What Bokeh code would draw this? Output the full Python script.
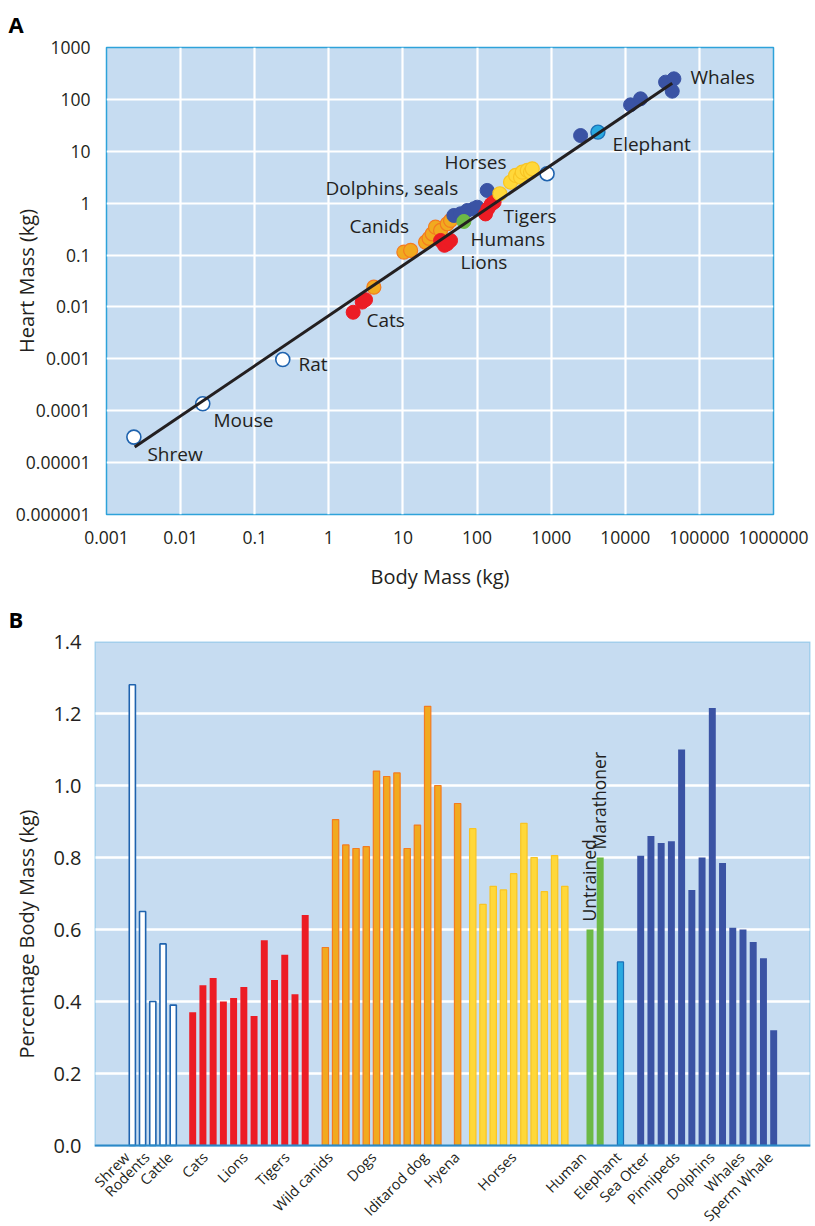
import numpy as np
from math import pi
from bokeh.plotting import figure
from bokeh.models import (FixedTicker, CustomJSTickFormatter, PrintfTickFormatter,
                          LabelSet, ColumnDataSource, Range1d, BoxAnnotation, Span)
from bokeh.core.properties import value
from bokeh.embed import file_html
from bokeh.resources import INLINE

FONT = "Open Sans"
INK = "#231f20"
BG = "#c6dcf1"
FRAME = "#2ea2da"
C_WHITE_LINE = "#1f63ae"
C_RED = "#ec1c24"
C_ORANGE = "#f1aa1f"
C_ORANGE_LINE = "#f47b20"
C_YELLOW = "#ffd83a"
C_YELLOW_LINE = "#f9c423"
C_GREEN = "#6cb946"
C_ELE = "#29a9e0"
C_ELE_LINE = "#1c72b8"
C_BLUE = "#3a53a4"
C_BASE = "#2a7fc0"

# ---------------- Panel A data: body mass (kg) vs heart mass (kg) ----------------
small_mass = [0.00234, 0.0199, 0.239, 880.0]
small_heart = [3.1e-5, 1.36e-4, 9.7e-4, 3.7]
canid_mass = [4.05, 10.3, 12.7, 20.2, 22.5, 24.8, 27.5, 32.2, 39.6, 43.9]
canid_heart = [0.024, 0.114, 0.123, 0.177, 0.21, 0.257, 0.345, 0.298, 0.401, 0.464]
cat_mass = [2.13, 2.82, 3.13]
cat_heart = [0.0079, 0.0124, 0.0138]
lion_mass = [32.2, 36.3, 39.6, 43.9]
lion_heart = [0.191, 0.154, 0.165, 0.191]
marine_mass = [48.6, 59.9, 73.8, 90.6, 100.7, 137.0]
marine_heart = [0.579, 0.624, 0.723, 0.78, 0.837, 1.76]
human_mass = [66.4]
human_heart = [0.444]
tiger_mass = [130.0, 140.0, 155.0, 170.0]
tiger_heart = [0.62, 0.78, 0.95, 1.05]
horse_mass = [203.0, 283.0, 331.0, 386.0, 407.0, 476.0, 527.0, 556.0]
horse_heart = [1.52, 2.54, 3.42, 3.17, 3.96, 4.27, 3.96, 4.6]
whale_mass = [2495.0, 11780.0, 16070.0, 35000.0, 45300.0, 43000.0]
whale_heart = [20.1, 78.5, 102.6, 215.0, 249.0, 144.0]
elephant_mass = [4276.0]
elephant_heart = [23.4]

fit_coef = 0.0068
fit_exp = 0.967
fit_mass = [0.0024, 43000.0]

a_ticks_x = [1e-3, 1e-2, 1e-1, 1, 10, 100, 1e3, 1e4, 1e5, 1e6]
a_ticks_y = [1e-6, 1e-5, 1e-4, 1e-3, 1e-2, 1e-1, 1, 10, 100, 1000]

a_label_text = ["Whales", "Elephant", "Horses", "Dolphins, seals", "Tigers", "Canids",
                "Humans", "Lions", "Cats", "Rat", "Mouse", "Shrew"]
a_label_x = [76000, 6740, 36.4, 0.90, 228, 1.90, 81.7, 59.8, 3.23, 0.39, 0.0278, 0.00357]
a_label_y = [276, 14.1, 6.08, 1.92, 0.554, 0.356, 0.2, 0.072, 0.0055, 7.8e-4, 6.5e-5, 1.44e-5]

# ---------------- Panel B data: heart mass as % of body mass ----------------
b_small = [1.28, 0.65, 0.40, 0.56, 0.39]
b_felids = [0.37, 0.445, 0.465, 0.40, 0.41, 0.44, 0.36, 0.57, 0.46, 0.53, 0.42, 0.64]
b_canids = [0.55, 0.905, 0.835, 0.825, 0.83, 1.04, 1.025, 1.035, 0.825, 0.89, 1.22, 1.0]
b_hyena = [0.95]
b_horses = [0.88, 0.67, 0.72, 0.71, 0.755, 0.895, 0.80, 0.705, 0.805, 0.72]
b_human = [0.60, 0.80]
b_human_names = ["Untrained", "Marathoner"]
b_elephant = [0.51]
b_marine = [0.805, 0.86, 0.84, 0.845, 1.10, 0.71, 0.80, 1.215, 0.785, 0.605, 0.60, 0.565, 0.52, 0.32]
# slot index of the first bar of each group
b_group_start = {"small": 1, "felids": 6.9, "canids": 19.87, "hyena": 32.8, "horses": 34.28,
                 "human": 45.74, "elephant": 48.72, "marine": 50.7}

b_tick_names = ["Shrew", "Rodents", "Cattle", "Cats", "Lions", "Tigers", "Wild canids", "Dogs",
                "Iditarod dog", "Hyena", "Horses", "Human", "Elephant", "Sea Otter", "Pinnipeds",
                "Dolphins", "Whales", "Sperm Whale"]
b_tick_pos = [0.45, 2.41, 4.69, 8.11, 12.02, 16.10, 20.33, 24.57, 29.62, 32.72, 38.26, 45.10,
              48.52, 51.29, 54.22, 57.64, 60.58, 63.34]
b_ticks_y = [0.0, 0.2, 0.4, 0.6, 0.8, 1.0, 1.2, 1.4]
b_label_row = -0.025   # category names sit just under the zero line


def slots(key, vals):
    return [b_group_start[key] + i for i in range(len(vals))]


# ================= Panel A =================
pa = figure(width=815, height=595, x_axis_type="log", y_axis_type="log",
            x_range=Range1d(1e-3, 1e6), y_range=Range1d(1e-6, 1e3),
            output_backend="svg", toolbar_location=None, title="A",
            min_border_left=106, min_border_right=42, min_border_top=47, min_border_bottom=81,
            background_fill_color=BG, border_fill_color="white")
pa.outline_line_color = FRAME
pa.outline_line_width = 1.5
pa.title.align = "left"
pa.title.offset = -98
pa.title.vertical_align = "top"
pa.title.standoff = 14
pa.title.text_font = FONT
pa.title.text_font_style = "bold"
pa.title.text_font_size = "22px"
pa.title.text_color = "black"

fmt = CustomJSTickFormatter(code="""
    if (tick >= 1) { return tick.toFixed(0); }
    return tick.toFixed(Math.round(-Math.log10(tick)));
""")
tx = FixedTicker(ticks=a_ticks_x, minor_ticks=[])
ty = FixedTicker(ticks=a_ticks_y, minor_ticks=[])
pa.xaxis.ticker = tx
pa.yaxis.ticker = ty
pa.xgrid.ticker = tx
pa.ygrid.ticker = ty
for ax in (pa.xaxis[0], pa.yaxis[0]):
    ax.formatter = fmt
    ax.axis_line_color = None
    ax.major_tick_line_color = None
    ax.minor_tick_line_color = None
    ax.major_label_text_font = FONT
    ax.major_label_text_font_size = "17.5px"
    ax.major_label_text_color = INK
    ax.axis_label_text_font = FONT
    ax.axis_label_text_font_size = "20px"
    ax.axis_label_text_font_style = "normal"
    ax.axis_label_text_color = INK
pa.xaxis.major_label_standoff = 10
pa.yaxis.major_label_standoff = 10
pa.xaxis.axis_label = "Body Mass (kg)"
pa.yaxis.axis_label = "Heart Mass (kg)"
pa.xaxis.axis_label_standoff = 16
pa.yaxis.axis_label_standoff = -27
for g in (pa.xgrid[0], pa.ygrid[0]):
    g.grid_line_color = "white"
    g.grid_line_width = 2.2

series = [
    (small_mass, small_heart, "white", C_WHITE_LINE, 1.6),
    (canid_mass, canid_heart, C_ORANGE, C_ORANGE_LINE, 1.2),
    (cat_mass, cat_heart, C_RED, C_RED, 1),
    (lion_mass, lion_heart, C_RED, C_RED, 1),
    (marine_mass, marine_heart, C_BLUE, C_BLUE, 1),
    (human_mass, human_heart, C_GREEN, C_GREEN, 1),
    (tiger_mass, tiger_heart, C_RED, C_RED, 1),
    (horse_mass, horse_heart, C_YELLOW, C_YELLOW_LINE, 1.2),
    (whale_mass, whale_heart, C_BLUE, C_BLUE, 1),
    (elephant_mass, elephant_heart, C_ELE, C_ELE_LINE, 1.4),
]
for xs, ys, fc, lc, lw in series:
    pa.scatter(xs, ys, size=14, fill_color=fc, line_color=lc, line_width=lw)

fit_x = np.array(fit_mass)
fit_y = fit_coef * fit_x ** fit_exp
pa.line(fit_x, fit_y, line_color=INK, line_width=3)

src_a = ColumnDataSource(dict(x=a_label_x, y=a_label_y, text=a_label_text))
pa.add_layout(LabelSet(x="x", y="y", text="text", source=src_a,
                       text_font=value(FONT), text_font_size=value("19px"),
                       text_color=INK, text_align="left", text_baseline="middle"))

# ================= Panel B =================
pb = figure(width=815, height=631, x_range=Range1d(-2.7, 67.3), y_range=Range1d(-0.225, 1.4),
            output_backend="svg", toolbar_location=None, title="B", x_axis_location=None,
            min_border_left=94, min_border_right=5, min_border_top=46, min_border_bottom=0,
            background_fill_color="white", border_fill_color="white")
pb.outline_line_color = None
pb.title.align = "left"
pb.title.offset = -86
pb.title.vertical_align = "top"
pb.title.standoff = 12
pb.title.text_font = FONT
pb.title.text_font_style = "bold"
pb.title.text_font_size = "22px"
pb.title.text_color = "black"

# plot area (0 .. 1.4) in light blue, white below it for the category names
pb.add_layout(BoxAnnotation(bottom=0, top=1.4, fill_color=BG, fill_alpha=1,
                            line_color=None, level="image"))

pb.xgrid.visible = False
pb.ygrid.ticker = FixedTicker(ticks=b_ticks_y)
pb.ygrid.grid_line_color = "white"
pb.ygrid.grid_line_width = 2.5

pb.vbar(x=slots("small", b_small), top=b_small, width=0.6, bottom=0,
        fill_color="white", line_color=C_WHITE_LINE, line_width=1.6)
pb.vbar(x=slots("felids", b_felids), top=b_felids, width=0.68, bottom=0,
        fill_color=C_RED, line_color=None)
pb.vbar(x=slots("canids", b_canids), top=b_canids, width=0.62, bottom=0,
        fill_color=C_ORANGE, line_color=C_ORANGE_LINE, line_width=1.2)
pb.vbar(x=slots("hyena", b_hyena), top=b_hyena, width=0.62, bottom=0,
        fill_color=C_ORANGE, line_color=C_ORANGE_LINE, line_width=1.2)
pb.vbar(x=slots("horses", b_horses), top=b_horses, width=0.62, bottom=0,
        fill_color=C_YELLOW, line_color=C_YELLOW_LINE, line_width=1.2)
hx = slots("human", b_human)
pb.vbar(x=hx, top=b_human, width=0.68, bottom=0, fill_color=C_GREEN, line_color=None)
pb.vbar(x=slots("elephant", b_elephant), top=b_elephant, width=0.6, bottom=0,
        fill_color=C_ELE, line_color=C_ELE_LINE, line_width=1.2)
pb.vbar(x=slots("marine", b_marine), top=b_marine, width=0.68, bottom=0,
        fill_color=C_BLUE, line_color=None)

# frame border around the plotting area and the darker zero line
pb.add_layout(BoxAnnotation(bottom=0, top=1.4, fill_alpha=0, line_color=FRAME,
                            line_width=2.5, level="overlay"))
pb.add_layout(Span(location=0, dimension="width", line_color=C_BASE, line_width=2))

src_h = ColumnDataSource(dict(x=hx, y=b_human, text=b_human_names))
pb.add_layout(LabelSet(x="x", y="y", text="text", source=src_h, angle=pi / 2,
                       y_offset=8, x_offset=-1,
                       text_font=value(FONT), text_font_size=value("17.5px"),
                       text_color=INK, text_align="left", text_baseline="middle"))

# category names under the bars
pb.text(x=b_tick_pos, y=[b_label_row] * len(b_tick_pos), text=b_tick_names, angle=pi / 4,
        text_align="right", text_baseline="middle", text_font=value(FONT),
        text_font_size=value("14.5px"), text_color=INK)

pb.yaxis.ticker = FixedTicker(ticks=b_ticks_y, minor_ticks=[])
pb.yaxis.formatter = PrintfTickFormatter(format="%.1f")
pb.yaxis.axis_line_color = None
pb.yaxis.major_tick_line_color = None
pb.yaxis.minor_tick_line_color = None
pb.yaxis.major_label_text_font = FONT
pb.yaxis.major_label_text_font_size = "20px"
pb.yaxis.major_label_text_color = INK
pb.yaxis.major_label_standoff = 7
pb.yaxis.axis_label = "Percentage Body Mass (kg)"
pb.yaxis.axis_label_text_font = FONT
pb.yaxis.axis_label_text_font_size = "20px"
pb.yaxis.axis_label_text_font_style = "normal"
pb.yaxis.axis_label_text_color = INK
pb.yaxis.axis_label_standoff = 10

# two independent roots, stacked, so that each plot keeps its own frame geometry
open("out.html", "w").write(file_html([pa, pb], INLINE))
